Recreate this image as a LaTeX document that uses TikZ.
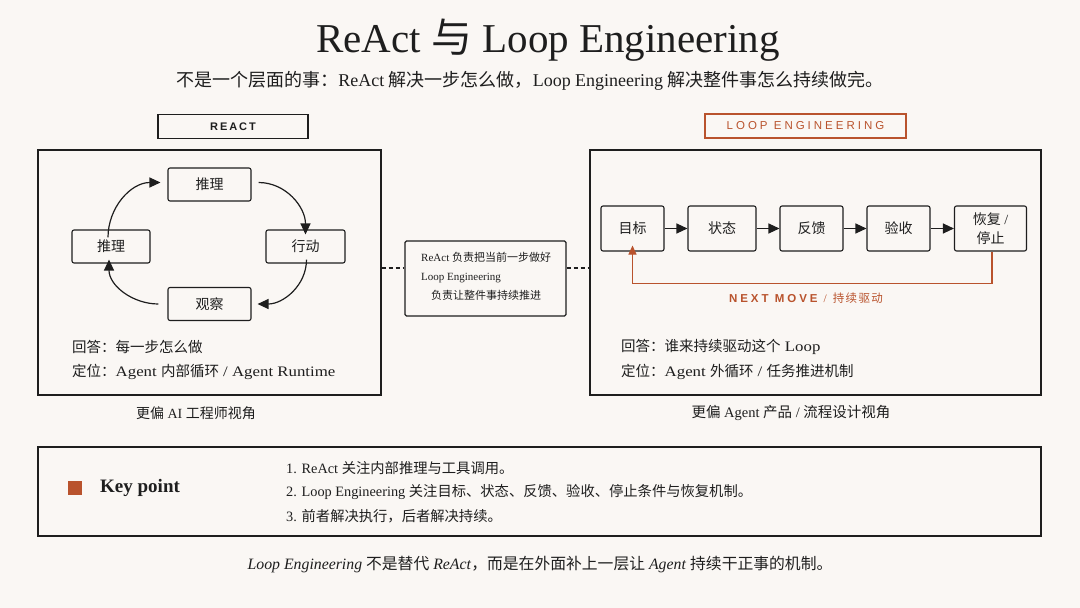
\documentclass[tikz,border=0pt]{standalone}
\usepackage{fontspec}
\setmainfont{Liberation Serif}
\newfontfamily\cjk{Noto Sans CJK SC}
\newfontfamily\lbl[LetterSpace=18]{Liberation Sans}
\newfontfamily\lblw[LetterSpace=26]{Liberation Sans}
\newfontfamily\wserif[FakeStretch=1.16]{Liberation Serif}
\newcommand{\z}[1]{{\cjk #1}}
\usetikzlibrary{arrows.meta,positioning,calc}
\definecolor{bg}{HTML}{FAF7F4}
\definecolor{ink}{HTML}{1E1E1E}
\definecolor{rust}{HTML}{B9532D}
\tikzset{
  bigbox/.style={draw=ink, line width=1.4pt},
  nbox/.style={draw=ink, line width=1.1pt, rounded corners=2pt, fill=bg, font=\fontsize{14}{16}\selectfont, text=ink, inner sep=0pt},
  tagbox/.style={draw=ink, line width=1.2pt, minimum width=150, minimum height=24, inner sep=0pt},
  cyc/.style={-{Triangle[length=11pt,width=10pt]}, line width=1.2pt, draw=ink},
  flow/.style={-{Triangle[length=11pt,width=10pt]}, line width=1.2pt, draw=ink},
  txt/.style={text=ink, inner sep=0pt, anchor=west}
}
\begin{document}
\begin{tikzpicture}[x=1pt,y=-1pt]
\useasboundingbox[fill=bg] (0,0) rectangle (1080,608);

% title
\node[text=ink, font=\fontsize{41}{44}\selectfont] (title) at (548,40) {ReAct \z{与} Loop Engineering};
\node[text=ink, font=\fontsize{18}{20}\selectfont] (sub) at (530,81) {\z{不是一个层面的事：}ReAct \z{解决一步怎么做，}Loop Engineering \z{解决整件事怎么持续做完。}};

% tags
\node[tagbox, fill=bg, text=ink, font=\lbl\bfseries\fontsize{11}{12}\selectfont] (tagL) at (233,126.5) {REACT};
\node[tagbox, draw=rust, minimum width=201, text=rust, font=\lblw\fontsize{11.5}{12}\selectfont] (tagR) at (805.5,126) {LOOP ENGINEERING};

% big boxes
\node[bigbox, minimum width=343, minimum height=245, inner sep=0pt] (lbox) at (209.5,272.5) {};
\node[bigbox, minimum width=451, minimum height=245, inner sep=0pt] (rbox) at (815.5,272.5) {};

% middle box
\node[draw=ink, line width=1.1pt, rounded corners=1.5pt, minimum width=161, minimum height=75, inner sep=0pt] (mid) at (485.5,278.5) {};
\node[txt, font=\fontsize{11}{19}\selectfont, align=left, anchor=north west] (midtxt) at (421,252) {ReAct \z{负责把当前一步做好}\\Loop Engineering\\\hspace{10pt}\z{负责让整件事持续推进}};
\coordinate (dL) at (lbox.east |- 0,268);
\coordinate (dR) at (rbox.west |- 0,268);
\draw[ink, line width=1.1pt, dash pattern=on 4pt off 3pt] (dL) -- (mid.west |- dL);
\draw[ink, line width=1.1pt, dash pattern=on 4pt off 3pt] (mid.east |- dR) -- (dR);

% ReAct cycle
\node[nbox, minimum width=83, minimum height=33] (ntop) at (209.5,184.5) {\z{推理}};
\node[nbox, minimum width=79, minimum height=33] (nright) at (305.5,246.5) {\z{行动}};
\node[nbox, minimum width=83, minimum height=33] (nbot) at (209.5,304) {\z{观察}};
\node[nbox, minimum width=78, minimum height=33] (nleft) at (111,246.5) {\z{推理}};
\coordinate (a1s) at ([xshift=-3pt,yshift=-8pt]nleft.north);
\coordinate (a1e) at ([xshift=-7pt,yshift=2pt]ntop.west);
\coordinate (a2s) at ([xshift=7pt,yshift=2pt]ntop.east);
\coordinate (a2e) at ([yshift=-5pt]nright.north);
\coordinate (a3s) at ([xshift=1pt,yshift=4pt]nright.south);
\coordinate (a3e) at ([xshift=6pt]nbot.east);
\coordinate (a4s) at ([xshift=-9pt]nbot.west);
\coordinate (a4e) at ([xshift=-2pt,yshift=4pt]nleft.south);
\draw[cyc] (a1s) to[out=90,in=180] (a1e);
\draw[cyc] (a2s) to[out=0,in=90] (a2e);
\draw[cyc] (a3s) to[out=-90,in=0] (a3e);
\draw[cyc] (a4s) to[out=180,in=-90] (a4e);

\node[txt, font=\fontsize{14.5}{16}\selectfont] (lans) at (72,347) {\z{回答：每一步怎么做}};
\node[txt, font=\wserif\fontsize{14.5}{16}\selectfont] (lpos) at (72,372) {\z{定位：}Agent \z{内部循环} / Agent Runtime};
\node[text=ink, font=\fontsize{14}{15}\selectfont] (lcap) at (196,413) {\z{更偏} AI \z{工程师视角}};

% Loop engineering flow
\node[nbox, minimum width=63, minimum height=45] (goal) at (632.5,228.5) {\z{目标}};
\node[nbox, minimum width=68, minimum height=45] (state) at (722,228.5) {\z{状态}};
\node[nbox, minimum width=63, minimum height=45] (fb) at (811.5,228.5) {\z{反馈}};
\node[nbox, minimum width=63, minimum height=45] (acc) at (898.5,228.5) {\z{验收}};
\node[nbox, minimum width=72, minimum height=45, align=center, font=\fontsize{14}{19}\selectfont] (stop) at (990.5,228.5) {\z{恢复} /\\\z{停止}};
\draw[flow] (goal) -- (state);
\draw[flow] (state) -- (fb);
\draw[flow] (fb) -- (acc);
\draw[flow] (acc) -- (stop);
\draw[rust, line width=1.1pt, -{Triangle[length=9pt,width=8pt]}] ([xshift=1.5pt]stop.south) -- ++(0,32) -| ([yshift=6pt]goal.south);
\node[text=rust, font=\fontsize{11.5}{13}\selectfont] (nm) at (806,298) {{\lblw\bfseries NEXT MOVE}\hspace{6pt}/\hspace{6pt}{\cjk\addfontfeature{LetterSpace=12}持续驱动}};

\node[txt, font=\wserif\fontsize{14.5}{16}\selectfont] (rans) at (621,347) {\z{回答：谁来持续驱动这个} Loop};
\node[txt, font=\wserif\fontsize{14.5}{16}\selectfont] (rpos) at (621,372) {\z{定位：}Agent \z{外循环} / \z{任务推进机制}};
\node[text=ink, font=\fontsize{14.5}{16}\selectfont] (rcap) at (791,413) {\z{更偏} Agent \z{产品} / \z{流程设计视角}};

% key point box
\node[bigbox, minimum width=1003, minimum height=89, inner sep=0pt] (kbox) at (539.5,491.5) {};
\node[fill=rust, minimum width=14, minimum height=14, inner sep=0pt] (sq) at (75,488) {};
\node[txt, font=\bfseries\fontsize{19}{21}\selectfont] (kp) at (100,488) {Key point};
\node[txt, font=\fontsize{14.3}{15}\selectfont] (k1) at (286,468) {1. ReAct \z{关注内部推理与工具调用。}};
\node[txt, font=\fontsize{14.3}{15}\selectfont] (k2) at (286,492) {2. Loop Engineering \z{关注目标、状态、反馈、验收、停止条件与恢复机制。}};
\node[txt, font=\fontsize{14.3}{15}\selectfont] (k3) at (286,516) {3. \z{前者解决执行，后者解决持续。}};

% footer
\node[text=ink, font=\fontsize{15.8}{17}\selectfont] (foot) at (540,565) {\textit{Loop Engineering} \z{不是替代} \textit{ReAct}\z{，而是在外面补上一层让} \textit{Agent} \z{持续干正事的机制。}};
\end{tikzpicture}
\end{document}
